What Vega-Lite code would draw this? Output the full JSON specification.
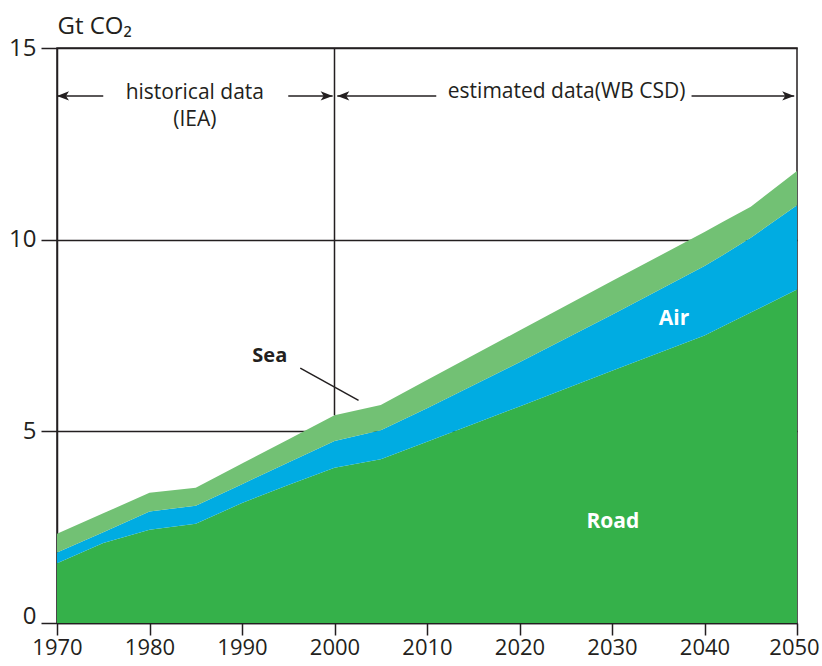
{
  "$schema": "https://vega.github.io/schema/vega-lite/v6.json",
  "width": 740,
  "height": 575,
  "autosize": "none",
  "padding": {"left": 57, "top": 48, "right": 25, "bottom": 43},
  "config": {
    "font": "Open Sans",
    "view": {"stroke": "#231f20", "strokeWidth": 1.5},
    "axis": {"labelColor": "#231f20", "domainColor": "#231f20", "tickColor": "#231f20", "domainWidth": 1.5, "tickWidth": 1.5, "labelFont": "Open Sans", "titleFont": "Open Sans", "titleColor": "#231f20"}
  },
  "layer": [
    {
      "data": {"values": [
        {"year": 1970, "mode": "Road", "ord": 1, "value": 1.56}, {"year": 1970, "mode": "Air", "ord": 2, "value": 0.28}, {"year": 1970, "mode": "Sea", "ord": 3, "value": 0.49},
        {"year": 1975, "mode": "Road", "ord": 1, "value": 2.09}, {"year": 1975, "mode": "Air", "ord": 2, "value": 0.28}, {"year": 1975, "mode": "Sea", "ord": 3, "value": 0.49},
        {"year": 1980, "mode": "Road", "ord": 1, "value": 2.43}, {"year": 1980, "mode": "Air", "ord": 2, "value": 0.48}, {"year": 1980, "mode": "Sea", "ord": 3, "value": 0.49},
        {"year": 1985, "mode": "Road", "ord": 1, "value": 2.59}, {"year": 1985, "mode": "Air", "ord": 2, "value": 0.47}, {"year": 1985, "mode": "Sea", "ord": 3, "value": 0.47},
        {"year": 1990, "mode": "Road", "ord": 1, "value": 3.13}, {"year": 1990, "mode": "Air", "ord": 2, "value": 0.49}, {"year": 1990, "mode": "Sea", "ord": 3, "value": 0.54},
        {"year": 1995, "mode": "Road", "ord": 1, "value": 3.60}, {"year": 1995, "mode": "Air", "ord": 2, "value": 0.59}, {"year": 1995, "mode": "Sea", "ord": 3, "value": 0.60},
        {"year": 2000, "mode": "Road", "ord": 1, "value": 4.05}, {"year": 2000, "mode": "Air", "ord": 2, "value": 0.70}, {"year": 2000, "mode": "Sea", "ord": 3, "value": 0.67},
        {"year": 2005, "mode": "Road", "ord": 1, "value": 4.27}, {"year": 2005, "mode": "Air", "ord": 2, "value": 0.76}, {"year": 2005, "mode": "Sea", "ord": 3, "value": 0.66},
        {"year": 2010, "mode": "Road", "ord": 1, "value": 4.73}, {"year": 2010, "mode": "Air", "ord": 2, "value": 0.87}, {"year": 2010, "mode": "Sea", "ord": 3, "value": 0.74},
        {"year": 2020, "mode": "Road", "ord": 1, "value": 5.65}, {"year": 2020, "mode": "Air", "ord": 2, "value": 1.15}, {"year": 2020, "mode": "Sea", "ord": 3, "value": 0.83},
        {"year": 2030, "mode": "Road", "ord": 1, "value": 6.58}, {"year": 2030, "mode": "Air", "ord": 2, "value": 1.46}, {"year": 2030, "mode": "Sea", "ord": 3, "value": 0.88},
        {"year": 2040, "mode": "Road", "ord": 1, "value": 7.50}, {"year": 2040, "mode": "Air", "ord": 2, "value": 1.81}, {"year": 2040, "mode": "Sea", "ord": 3, "value": 0.89},
        {"year": 2042, "mode": "Road", "ord": 1, "value": 7.74}, {"year": 2042, "mode": "Air", "ord": 2, "value": 1.86}, {"year": 2042, "mode": "Sea", "ord": 3, "value": 0.87},
        {"year": 2045, "mode": "Road", "ord": 1, "value": 8.10}, {"year": 2045, "mode": "Air", "ord": 2, "value": 1.95}, {"year": 2045, "mode": "Sea", "ord": 3, "value": 0.81},
        {"year": 2050, "mode": "Road", "ord": 1, "value": 8.70}, {"year": 2050, "mode": "Air", "ord": 2, "value": 2.20}, {"year": 2050, "mode": "Sea", "ord": 3, "value": 0.89}
      ]},
      "mark": {"type": "area"},
      "encoding": {
        "x": {"field": "year", "type": "quantitative", "scale": {"domain": [1970, 2050], "nice": false, "zero": false},
              "axis": {"values": [1970, 1980, 1990, 2000, 2010, 2020, 2030, 2040, 2050], "format": "d", "title": null, "grid": false, "tickSize": 12, "labelFontSize": 22, "labelPadding": 2, "labelFlush": false, "labelOverlap": false,
                       "labelOffset": {"condition": {"test": "datum.value === 2050", "value": -3}, "value": 0}}},
        "y": {"field": "value", "type": "quantitative", "stack": "zero", "scale": {"domain": [0, 15], "nice": false},
              "axis": {"values": [0, 5, 10, 15], "grid": true, "gridColor": "#231f20", "gridWidth": 1.5, "gridOpacity": 1, "tickSize": 16, "labelFontSize": 24, "labelPadding": 5, "labelFlush": false,
                       "labelBaseline": {"condition": {"test": "datum.value === 0", "value": "alphabetic"}, "value": "middle"},
                       "title": "Gt CO₂", "titleAngle": 0, "titleAlign": "left", "titleBaseline": "alphabetic", "titleX": 0, "titleY": -15, "titleFontSize": 24, "titleFontWeight": "normal"}},
        "color": {"field": "mode", "type": "nominal", "scale": {"domain": ["Road", "Air", "Sea"], "range": ["#35b14a", "#00ace2", "#72c174"]}, "legend": null},
        "order": {"field": "ord", "type": "quantitative"}
      }
    },
    {
      "data": {"values": [{"x": 2000, "y": 5.42, "y2": 15}]},
      "mark": {"type": "rule", "color": "#231f20", "strokeWidth": 1.5},
      "encoding": {"x": {"field": "x", "type": "quantitative"}, "y": {"field": "y", "type": "quantitative"}, "y2": {"field": "y2"}}
    },
    {
      "data": {"values": [
        {"x": 1970, "x2": 1975, "y": 13.75},
        {"x": 1995, "x2": 1999.8, "y": 13.75},
        {"x": 2000.3, "x2": 2011, "y": 13.75},
        {"x": 2038.6, "x2": 2049.7, "y": 13.75},
        {"x": 1996.3, "x2": 2002.6, "y": 6.65, "y2": 5.81}
      ]},
      "mark": {"type": "rule", "color": "#231f20", "strokeWidth": 1.5},
      "encoding": {"x": {"field": "x", "type": "quantitative"}, "x2": {"field": "x2"}, "y": {"field": "y", "type": "quantitative"}, "y2": {"field": "y2"}}
    },
    {
      "data": {"values": [
        {"x": 1970, "y": 13.75, "dir": "left"},
        {"x": 1999.8, "y": 13.75, "dir": "right"},
        {"x": 2000.3, "y": 13.75, "dir": "left"},
        {"x": 2049.7, "y": 13.75, "dir": "right"}
      ]},
      "mark": {"type": "point", "filled": true, "color": "#231f20", "opacity": 1, "size": 576},
      "encoding": {
        "x": {"field": "x", "type": "quantitative"},
        "y": {"field": "y", "type": "quantitative"},
        "shape": {"field": "dir", "type": "nominal", "scale": {"domain": ["left", "right"], "range": ["M0,0L1,-0.38L0.75,0L1,0.38Z", "M0,0L-1,-0.38L-0.75,0L-1,0.38Z"]}, "legend": null}
      }
    },
    {
      "data": {"values": [
        {"x": 1984.9, "y": 13.66, "t": "historical data"},
        {"x": 1984.9, "y": 12.97, "t": "(IEA)"},
        {"x": 2025.1, "y": 13.69, "t": "estimated data(WB CSD)"}
      ]},
      "mark": {"type": "text", "fontSize": 21, "color": "#231f20", "align": "center", "baseline": "alphabetic"},
      "encoding": {"x": {"field": "x", "type": "quantitative"}, "y": {"field": "y", "type": "quantitative"}, "text": {"field": "t"}}
    },
    {
      "data": {"values": [{"x": 1993.0, "y": 6.96, "t": "Sea"}]},
      "mark": {"type": "text", "fontSize": 20, "fontWeight": "bold", "color": "#231f20", "align": "center", "baseline": "middle"},
      "encoding": {"x": {"field": "x", "type": "quantitative"}, "y": {"field": "y", "type": "quantitative"}, "text": {"field": "t"}}
    },
    {
      "data": {"values": [{"x": 2036.7, "y": 7.93, "t": "Air"}, {"x": 2030.1, "y": 2.64, "t": "Road"}]},
      "mark": {"type": "text", "fontSize": 21, "fontWeight": "bold", "color": "white", "align": "center", "baseline": "middle"},
      "encoding": {"x": {"field": "x", "type": "quantitative"}, "y": {"field": "y", "type": "quantitative"}, "text": {"field": "t"}}
    }
  ]
}
